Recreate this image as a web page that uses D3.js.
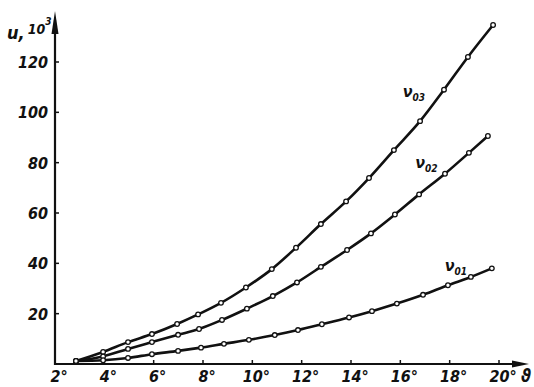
<!DOCTYPE html>
<html>
<head>
<meta charset="utf-8">
<script src="https://cdn.jsdelivr.net/npm/d3@7"></script>
<style>
body { margin: 0; background: #fff; }
svg { display: block; }
.lbl { font-family: "DejaVu Sans Condensed", "DejaVu Sans", sans-serif; font-stretch: condensed; font-style: italic; font-weight: bold; fill: #111; }
</style>
</head>
<body>
<script>
var width = 534, height = 387;

// readings: theta in degrees, u in units of 10^3
var theta03 = [2.85, 3.95, 4.96, 5.93, 6.95, 7.80, 8.73, 9.74, 10.79, 11.77, 12.78, 13.80, 14.73, 15.74, 16.80, 17.77, 18.74, 19.76];
var u03 = [1.2, 4.8, 8.7, 11.9, 15.9, 19.7, 24.3, 30.4, 37.7, 46.2, 55.6, 64.6, 73.9, 85.0, 96.5, 109.0, 122.0, 134.7];
var theta02 = [2.85, 3.95, 4.96, 5.93, 6.99, 7.84, 8.77, 9.78, 10.83, 11.81, 12.78, 13.84, 14.81, 15.78, 16.76, 17.81, 18.78, 19.55];
var u02 = [1.2, 3.0, 6.0, 8.7, 11.6, 13.9, 17.5, 22.0, 27.0, 32.4, 38.6, 45.3, 51.9, 59.4, 67.4, 75.6, 83.9, 90.6];
var theta01 = [2.85, 3.95, 4.96, 5.93, 6.99, 7.92, 8.85, 9.86, 10.91, 11.85, 12.82, 13.92, 14.85, 15.86, 16.92, 17.93, 18.86, 19.71];
var u01 = [1.2, 1.5, 2.4, 3.9, 5.2, 6.5, 8.0, 9.6, 11.5, 13.5, 15.8, 18.5, 21.0, 24.0, 27.5, 31.3, 34.6, 38.0];

var xTicks = [2, 4, 6, 8, 10, 12, 14, 16, 18, 20];
var yTicks = [20, 40, 60, 80, 100, 120];

var series = [
  {name: "03", theta: theta03, u: u03, lx: 16.1, ly: 106},
  {name: "02", theta: theta02, u: u02, lx: 16.6, ly: 78},
  {name: "01", theta: theta01, u: u01, lx: 17.8, ly: 37}
];

var x = d3.scaleLinear().domain([2, 20]).range([55, 499]);
var y = d3.scaleLinear().domain([0, 120]).range([364, 62]);

var svg = d3.select("body").append("svg")
  .attr("width", width)
  .attr("height", height);

// axes
var ax = svg.append("g").attr("stroke", "#111").attr("stroke-width", 2.2);
ax.append("line").attr("x1", x(2)).attr("y1", y(0)).attr("x2", 520).attr("y2", y(0));
ax.append("line").attr("x1", x(2)).attr("y1", y(0) + 1).attr("x2", x(2)).attr("y2", 20);

svg.append("path")
  .attr("d", "M" + x(2) + ",11 L" + (x(2) - 3.5) + ",34 L" + (x(2) + 3.5) + ",34 Z")
  .attr("fill", "#111");
svg.append("path")
  .attr("d", "M529," + y(0) + " L512," + (y(0) - 3.5) + " L512," + (y(0) + 3.5) + " Z")
  .attr("fill", "#111");

svg.append("g").selectAll("line")
  .data(xTicks.slice(1)).enter()
  .append("line")
  .attr("x1", function (d) { return x(d); })
  .attr("x2", function (d) { return x(d); })
  .attr("y1", y(0))
  .attr("y2", y(0) - 4)
  .attr("stroke", "#111")
  .attr("stroke-width", 1.5);

svg.append("g").selectAll("line")
  .data(yTicks).enter()
  .append("line")
  .attr("x1", x(2))
  .attr("x2", x(2) + 4)
  .attr("y1", function (d) { return y(d); })
  .attr("y2", function (d) { return y(d); })
  .attr("stroke", "#111")
  .attr("stroke-width", 1.5);

// tick labels
svg.append("g").selectAll("text")
  .data(xTicks).enter()
  .append("text")
  .attr("class", "lbl")
  .attr("x", function (d) { return x(d) + 4; })
  .attr("y", 382)
  .attr("text-anchor", "middle")
  .attr("font-size", 16)
  .text(function (d) { return d + "°"; });

svg.append("g").selectAll("text")
  .data(yTicks).enter()
  .append("text")
  .attr("class", "lbl")
  .attr("x", 48)
  .attr("y", function (d) { return y(d) + 6; })
  .attr("text-anchor", "end")
  .attr("font-size", 16)
  .text(function (d) { return d; });

// axis titles
var yt = svg.append("text").attr("class", "lbl").attr("x", 7).attr("y", 39).attr("font-size", 18);
yt.append("tspan").text("u,");
yt.append("tspan").attr("dx", 3).attr("font-size", 14).attr("dy", -5).text("10");
yt.append("tspan").attr("font-size", 10).attr("dy", -9).text("3");

svg.append("text").attr("class", "lbl")
  .attr("x", 521).attr("y", 382)
  .attr("font-size", 17)
  .text("ϑ");

// curves
var line = d3.line()
  .x(function (d) { return x(d[0]); })
  .y(function (d) { return y(d[1]); })
  .curve(d3.curveMonotoneX);

series.forEach(function (s) {
  var pts = s.theta.map(function (t, i) { return [t, s.u[i]]; });
  svg.append("path")
    .datum(pts)
    .attr("d", line)
    .attr("fill", "none")
    .attr("stroke", "#111")
    .attr("stroke-width", 2.6);

  svg.append("g").selectAll("circle")
    .data(pts).enter()
    .append("circle")
    .attr("cx", function (d) { return x(d[0]); })
    .attr("cy", function (d) { return y(d[1]); })
    .attr("r", 2.3)
    .attr("fill", "#fff")
    .attr("stroke", "#111")
    .attr("stroke-width", 1.3);

  var t = svg.append("text").attr("class", "lbl")
    .attr("x", x(s.lx)).attr("y", y(s.ly))
    .attr("font-size", 16);
  t.append("tspan").text("ν");
  t.append("tspan").attr("font-size", 10).attr("dy", 4).text(s.name);
});
</script>
</body>
</html>
